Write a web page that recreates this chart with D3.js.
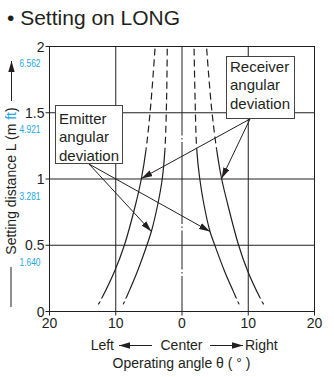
<!DOCTYPE html>
<html>
<head>
<meta charset="utf-8">
<script src="https://cdn.jsdelivr.net/npm/d3@7"></script>
<style>
  html, body { margin: 0; padding: 0; background: #fff; }
  svg { display: block; font-family: "Liberation Sans", Arial, sans-serif; }
</style>
</head>
<body>
<svg id="chart" width="334" height="377"></svg>
<script>
// Operating angle (degrees, negative = left) and setting distance (m)
const angleTicks = [-20, -10, 0, 10, 20];
const angleLabels = ["20", "10", "0", "10", "20"];
const distTicks = [0, 0.5, 1, 1.5, 2];
const distLabels = ["0", "0.5", "1", "1.5", "2"];
const feetLabels = ["", "1.640", "3.281", "4.921", "6.562"];

// Receiver angular deviation (outer pair)
const receiverDist  = [0.05, 0.1, 0.3, 0.5, 0.8, 1.0, 1.22, 1.55, 1.98];
const receiverLeft  = [-12.55, -12.0, -10.1, -8.6, -6.95, -6.05, -5.35, -4.65, -4.0];
const receiverRight = [12.4, 11.85, 10.0, 8.6, 7.0, 6.05, 5.3, 4.5, 3.8];

// Emitter angular deviation (inner pair)
const emitterDist  = [0.05, 0.1, 0.15, 0.3, 0.5, 0.6, 0.8, 1.0, 1.22, 1.6, 1.98];
const emitterLeft  = [-8.8, -8.35, -7.9, -6.65, -5.2, -4.55, -3.6, -2.9, -2.5, -2.25, -2.15];
const emitterRight = [8.7, 8.25, 7.8, 6.5, 5.0, 4.3, 3.4, 2.75, 2.3, 2.05, 1.9];

const DASH_FROM = 1.22;   // curves are dashed beyond this distance
const SOLID_FROM = 0.095; // short stub below this distance

const ink = "#231f20";
const cyan = "#1ea6e6";
const font = '"Liberation Sans", Arial, sans-serif';

const svg = d3.select("#chart");
const x = d3.scaleLinear().domain([-20, 20]).range([49, 314]);
const y = d3.scaleLinear().domain([0, 2]).range([311, 46]);

// Title
svg.append("text").attr("x", 7).attr("y", 25)
  .attr("font-size", 21).attr("fill", ink)
  .text("\u2022 Setting on LONG");

// Grid lines (the centre line is drawn separately as a chain line)
const grid = svg.append("g").attr("stroke", ink).attr("stroke-width", 1);
grid.selectAll("line.v").data(angleTicks.filter(a => a !== 0 && Math.abs(a) < 20))
  .join("line").attr("class", "v")
  .attr("x1", d => x(d) + 0.5).attr("x2", d => x(d) + 0.5)
  .attr("y1", y(2)).attr("y2", y(0));
grid.selectAll("line.h").data(distTicks.filter(d => d > 0 && d < 2))
  .join("line").attr("class", "h")
  .attr("x1", x(-20)).attr("x2", x(20))
  .attr("y1", d => y(d) + 0.5).attr("y2", d => y(d) + 0.5);

// Centre chain line
svg.append("line")
  .attr("x1", x(0) + 0.5).attr("x2", x(0) + 0.5)
  .attr("y1", y(0)).attr("y2", y(2))
  .attr("stroke", ink).attr("stroke-width", 1)
  .attr("stroke-dasharray", "35,2.5,1.5,2.5,39,2.5,1.5,2.5,82,2.5,1.5,2.5,400");

// Frame
svg.append("rect")
  .attr("x", x(-20) + 0.5).attr("y", y(2) + 0.5)
  .attr("width", x(20) - x(-20)).attr("height", y(0) - y(2))
  .attr("fill", "none").attr("stroke", ink).attr("stroke-width", 1);

// Axes
const yAxis = d3.axisLeft(y).tickValues(distTicks)
  .tickFormat((d, i) => distLabels[i]).tickSize(4).tickPadding(1);
const gy = svg.append("g").attr("transform", `translate(${x(-20) + 0.5},0)`).call(yAxis);
gy.select(".domain").remove();
gy.selectAll(".tick line").attr("stroke", ink);
gy.selectAll(".tick text").attr("font-size", 14).attr("font-family", font)
  .attr("fill", ink).attr("dy", "0.36em");

const xAxis = d3.axisBottom(x).tickValues(angleTicks)
  .tickFormat((d, i) => angleLabels[i]).tickSize(4).tickPadding(3);
const gx = svg.append("g").attr("transform", `translate(0,${y(0) + 0.5})`).call(xAxis);
gx.select(".domain").remove();
gx.selectAll(".tick line").attr("stroke", ink);
gx.selectAll(".tick text").attr("font-size", 14).attr("font-family", font).attr("fill", ink);

// Feet equivalents under the metre labels
svg.append("g").selectAll("text").data(distTicks.slice(1))
  .join("text")
  .attr("x", 40.5).attr("y", d => y(d) + 21)
  .attr("text-anchor", "end").attr("font-size", 11).attr("fill", cyan)
  .attr("textLength", 21).attr("lengthAdjust", "spacingAndGlyphs")
  .text((d, i) => feetLabels[i + 1]);

// Clip regions for the curve styles
const defs = svg.append("defs");
function clipBand(id, d0, d1) {
  defs.append("clipPath").attr("id", id).append("rect")
    .attr("x", 0).attr("width", 334)
    .attr("y", y(d1)).attr("height", y(d0) - y(d1));
}
clipBand("clip-stub", 0, 0.072);
clipBand("clip-solid", SOLID_FROM, DASH_FROM);
clipBand("clip-dash", DASH_FROM, 2);

const line = d3.line().x(p => x(p[0])).y(p => y(p[1])).curve(d3.curveCatmullRom.alpha(0.5));
const curves = [
  [receiverLeft, receiverDist], [receiverRight, receiverDist],
  [emitterLeft, emitterDist], [emitterRight, emitterDist]
].map(([a, d]) => a.map((v, i) => [v, d[i]]));

const gc = svg.append("g").attr("fill", "none").attr("stroke", ink).attr("stroke-width", 1.2);
[["clip-stub", null], ["clip-solid", null], ["clip-dash", "7,4"]].forEach(([clip, dash]) => {
  gc.append("g").attr("clip-path", `url(#${clip})`)
    .selectAll("path").data(curves).join("path")
    .attr("d", d => line(d.slice().reverse()))
    .attr("stroke-dasharray", dash);
});

// Arrow marker
defs.append("marker").attr("id", "head")
  .attr("viewBox", "0 -3.5 11 7").attr("refX", 11).attr("refY", 0)
  .attr("markerWidth", 11).attr("markerHeight", 7)
  .attr("markerUnits", "userSpaceOnUse").attr("orient", "auto")
  .append("path").attr("d", "M0,-3.2L11,0L0,3.2Z").attr("fill", ink);

// Callout boxes
function callout(left, top, w, h, lines, baseline0, lineGap) {
  const g = svg.append("g");
  g.append("rect").attr("x", left + 0.5).attr("y", top + 0.5)
    .attr("width", w).attr("height", h)
    .attr("fill", "#fff").attr("stroke", "#444").attr("stroke-width", 1);
  g.selectAll("text").data(lines).join("text")
    .attr("x", left + 4).attr("y", (d, i) => top + baseline0 + i * lineGap)
    .attr("font-size", 15).attr("fill", ink).text(d => d);
}

const arrows = svg.append("g").attr("stroke", ink).attr("stroke-width", 1);
function arrow(x0, y0, a, d) {
  arrows.append("line").attr("x1", x0).attr("y1", y0)
    .attr("x2", x(a)).attr("y2", y(d)).attr("marker-end", "url(#head)");
}

// Receiver: arrows to the outer curves at 1 m
const rIdx = receiverDist.indexOf(1.0);
callout(226, 56, 68, 62, ["Receiver", "angular", "deviation"], 16, 18.4);
arrow(250, 119, receiverLeft[rIdx], receiverDist[rIdx]);
arrow(250, 119, receiverRight[rIdx], receiverDist[rIdx]);

// Emitter: arrows to the inner curves at 0.6 m
const eIdx = emitterDist.indexOf(0.6);
callout(55, 105, 67, 58, ["Emitter", "angular", "deviation"], 19, 18.3);
arrow(89, 164, emitterLeft[eIdx], emitterDist[eIdx]);
arrow(89, 164, emitterRight[eIdx], emitterDist[eIdx]);

// Y axis title with upward arrow
svg.append("line").attr("x1", 11).attr("x2", 11).attr("y1", 307).attr("y2", 267)
  .attr("stroke", ink).attr("stroke-width", 1);
svg.append("line").attr("x1", 11.5).attr("x2", 11.5).attr("y1", 101).attr("y2", 61)
  .attr("stroke", ink).attr("stroke-width", 1).attr("marker-end", "url(#head)");
const yt = svg.append("text").attr("transform", "translate(15.5,181) rotate(-90)")
  .attr("text-anchor", "middle").attr("font-size", 14).attr("fill", ink);
yt.append("tspan").text("Setting distance L (m ");
yt.append("tspan").attr("fill", cyan).text("ft");
yt.append("tspan").text(")");

// X axis title
const xt = svg.append("g").attr("fill", ink).attr("font-size", 14);
xt.append("text").attr("x", 114).attr("y", 350).attr("text-anchor", "end").text("Left");
xt.append("text").attr("x", x(0)).attr("y", 350).attr("text-anchor", "middle").text("Center");
xt.append("text").attr("x", 245).attr("y", 350).attr("text-anchor", "start").text("Right");
xt.append("text").attr("x", x(0)).attr("y", 368).attr("text-anchor", "middle")
  .text("Operating angle \u03b8 ( \u00b0 )");
arrows.append("line").attr("x1", 152).attr("y1", 345.5).attr("x2", 119).attr("y2", 345.5)
  .attr("marker-end", "url(#head)");
arrows.append("line").attr("x1", 210).attr("y1", 345.5).attr("x2", 243).attr("y2", 345.5)
  .attr("marker-end", "url(#head)");
</script>
</body>
</html>
